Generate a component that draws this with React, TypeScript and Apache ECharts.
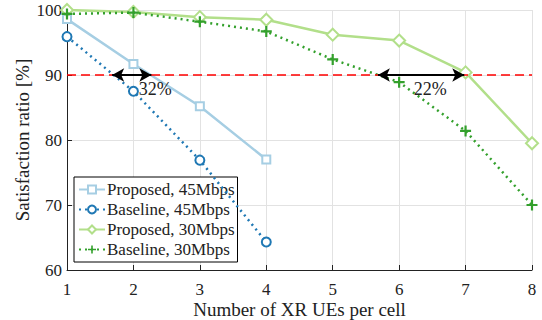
import React, { useEffect, useRef } from "react";
import * as echarts from "echarts";

const xValues = [1, 2, 3, 4, 5, 6, 7, 8];
const proposed45 = [98.6, 91.7, 85.2, 77.0];
const baseline45 = [95.9, 87.5, 76.9, 64.3];
const proposed30 = [100, 99.7, 98.9, 98.5, 96.2, 95.3, 90.4, 79.5];
const baseline30 = [99.4, 99.6, 98.2, 96.7, 92.4, 88.9, 81.4, 70.0];
const seriesNames = ["Proposed, 45Mbps", "Baseline, 45Mbps", "Proposed, 30Mbps", "Baseline, 30Mbps"];
const threshold = 90;
const arrow1 = [1.68, 2.27];
const arrow2 = [5.68, 6.98];
const gapLabels = [
  { text: "32%", x: 2.33, y: 87.8 },
  { text: "22%", x: 6.47, y: 87.8 },
];

const FONT = "'Liberation Serif', 'DejaVu Serif', serif";
const plusPath = "path://M4,0 L6,0 L6,4 L10,4 L10,6 L6,6 L6,10 L4,10 L4,6 L0,6 L0,4 L4,4 Z";

function pairs(vals: number[]) {
  return vals.map((v, i) => [xValues[i], v]);
}

export default function App() {
  const ref = useRef<HTMLDivElement>(null);
  useEffect(() => {
    if (!ref.current) return;
    const chart = echarts.init(ref.current, null, { renderer: "svg" });
    chart.setOption({
      animation: false,
      textStyle: { fontFamily: FONT },
      grid: { left: 67, right: 10, top: 10, bottom: 50, containLabel: false, outerBoundsMode: "none" },
      legend: {
        orient: "vertical",
        left: 74,
        top: 177,
        backgroundColor: "#fff",
        borderColor: "#000",
        borderWidth: 1,
        borderRadius: 0,
        padding: [4, 3, 4, 4],
        itemGap: 3,
        itemWidth: 26,
        itemHeight: 10,
        textStyle: { fontFamily: FONT, fontSize: 17, color: "#222", padding: [0, 0, 0, -3] },
        data: seriesNames,
      },
      xAxis: {
        type: "value",
        min: 1,
        max: 8,
        interval: 1,
        name: "Number of XR UEs per cell",
        nameLocation: "middle",
        nameGap: 30,
        nameMoveOverlap: false,
        nameTextStyle: { fontFamily: FONT, fontSize: 19, color: "#222" },
        axisLine: { lineStyle: { color: "#222", width: 1 } },
        axisTick: { inside: true, length: 5, lineStyle: { color: "#222" } },
        axisLabel: { fontFamily: FONT, fontSize: 17, color: "#222", margin: 11, lineHeight: 17 },
        splitLine: { show: true, lineStyle: { color: "#e2e2e2", width: 1 } },
      },
      yAxis: {
        type: "value",
        min: 60,
        max: 100,
        interval: 10,
        name: "Satisfaction ratio [%]",
        nameLocation: "middle",
        nameGap: 35,
        nameMoveOverlap: false,
        nameTextStyle: { fontFamily: FONT, fontSize: 19, color: "#222" },
        axisLine: { show: true, lineStyle: { color: "#222", width: 1 } },
        axisTick: { show: true, inside: true, length: 5, lineStyle: { color: "#222" } },
        axisLabel: { fontFamily: FONT, fontSize: 17, color: "#222", margin: 5 },
        splitLine: { show: true, lineStyle: { color: "#e2e2e2", width: 1 } },
      },
      series: [
        {
          name: seriesNames[0],
          type: "line",
          data: pairs(proposed45),
          symbol: "emptyRect",
          symbolSize: 8,
          lineStyle: { color: "#a6cee3", width: 2.5 },
          itemStyle: { color: "#a6cee3", borderWidth: 2 },
          z: 3,
        },
        {
          name: seriesNames[1],
          type: "line",
          data: pairs(baseline45),
          symbol: "emptyCircle",
          symbolSize: 9,
          lineStyle: { color: "#1f78b4", width: 2.5, type: [2, 4] },
          itemStyle: { color: "#1f78b4", borderWidth: 2.5 },
          z: 4,
        },
        {
          name: seriesNames[2],
          type: "line",
          data: pairs(proposed30),
          symbol: "emptyDiamond",
          symbolSize: 12,
          lineStyle: { color: "#b2df8a", width: 2.5 },
          itemStyle: { color: "#b2df8a", borderWidth: 2 },
          z: 3,
        },
        {
          name: seriesNames[3],
          type: "line",
          data: pairs(baseline30),
          symbol: plusPath,
          symbolSize: 11,
          lineStyle: { color: "#33a02c", width: 2.5, type: [2, 4] },
          itemStyle: { color: "#33a02c", borderWidth: 0 },
          z: 4,
        },
        {
          name: "annotations",
          type: "line",
          data: [],
          z: 6,
          markLine: {
            silent: true,
            symbol: "none",
            label: { show: false },
            lineStyle: { color: "#ff0000", type: [9, 5], width: 1.5 },
            data: [{ yAxis: threshold }],
          },
        },
        {
          name: "arrows",
          type: "line",
          data: [],
          z: 7,
          markLine: {
            silent: true,
            symbol: ["arrow", "arrow"],
            symbolSize: [10, 12],
            label: { show: false },
            lineStyle: { color: "#000", type: "solid", width: 2 },
            data: [
              [{ coord: [arrow1[0], threshold] }, { coord: [arrow1[1], threshold] }],
              [{ coord: [arrow2[0], threshold] }, { coord: [arrow2[1], threshold] }],
            ],
          },
          markPoint: {
            silent: true,
            symbol: "circle",
            symbolSize: 0,
            label: { show: true, fontFamily: FONT, fontSize: 18, color: "#222", formatter: "{b}" },
            data: gapLabels.map((g) => ({ name: g.text, coord: [g.x, g.y] })),
          },
        },
      ],
    });
    return () => chart.dispose();
  }, []);
  return <div ref={ref} style={{ width: 542, height: 320, position: "absolute", left: 0, top: 0 }} />;
}
